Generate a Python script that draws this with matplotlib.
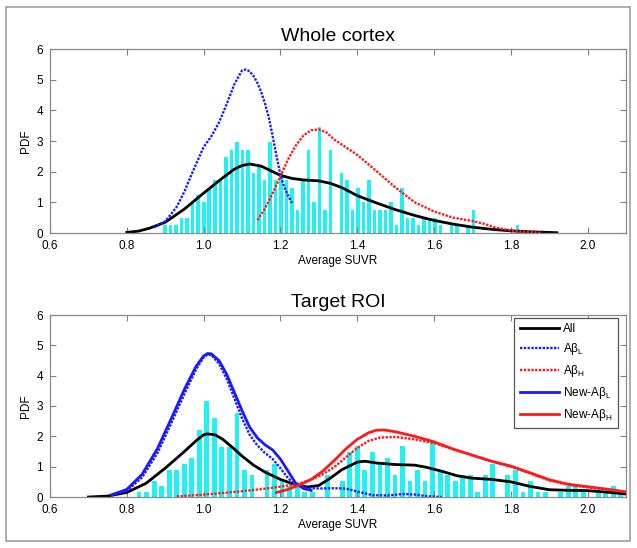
import numpy as np
import matplotlib
matplotlib.use("Agg")
import matplotlib.pyplot as plt
from matplotlib.patches import Rectangle

plt.rcParams['font.family'] = ['Liberation Sans', 'DejaVu Sans']
plt.rcParams['mathtext.fontset'] = 'custom'
plt.rcParams['mathtext.rm'] = 'Liberation Sans'
plt.rcParams['mathtext.it'] = 'Liberation Sans'

# ---- Whole cortex: histogram (bin centres start + width) ----
top_bin_start = 0.900
top_bin_width = 0.01434
top_hist = [0.25, 0.25, 0.25, 0.5, 0.5, 1.0, 1.23, 1.0, 1.48, 1.72,
            1.72, 2.47, 2.72, 2.96, 2.72, 2.72, 1.97, 2.22, 1.72, 2.96,
            1.72, 1.97, 1.72, 1.48, 0.74, 1.72, 2.72, 1.0, 3.45, 0.74,
            2.72, 0.0, 1.97, 1.72, 0.74, 1.48, 1.0, 1.72, 0.74, 0.74,
            0.74, 1.0, 0.25, 1.48, 0.5, 0.5, 0.25, 0.5, 0.5, 0.5,
            0.25, 0.0, 0.25, 0.25, 0.0, 0.25, 0.74, 0.0, 0.0, 0.0,
            0.0, 0.0, 0.0, 0.0, 0.25]

top_all_x = [0.80, 0.83, 0.86, 0.90, 0.95, 1.00, 1.05, 1.08, 1.10, 1.12, 1.15,
             1.18, 1.20, 1.23, 1.26, 1.30, 1.33, 1.36, 1.40, 1.45, 1.50, 1.55,
             1.60, 1.65, 1.70, 1.75, 1.80, 1.85, 1.92]
top_all_y = [0.02, 0.06, 0.16, 0.35, 0.78, 1.30, 1.80, 2.08, 2.20, 2.25, 2.18,
             2.00, 1.88, 1.78, 1.73, 1.70, 1.62, 1.48, 1.22, 0.98, 0.76, 0.57,
             0.41, 0.29, 0.19, 0.12, 0.07, 0.04, 0.01]

top_low_x = [0.87, 0.90, 0.93, 0.95, 0.97, 1.00, 1.02, 1.04, 1.06, 1.08, 1.10,
             1.11, 1.12, 1.13, 1.14, 1.15, 1.16, 1.17, 1.18, 1.19, 1.20, 1.21,
             1.22, 1.23]
top_low_y = [0.18, 0.38, 0.85, 1.35, 1.95, 2.80, 3.15, 3.60, 4.20, 4.85, 5.30,
             5.33, 5.27, 5.12, 4.90, 4.60, 4.22, 3.75, 3.15, 2.50, 1.90, 1.50,
             1.22, 0.98]

top_high_x = [1.14, 1.16, 1.18, 1.20, 1.22, 1.24, 1.26, 1.28, 1.30, 1.32, 1.34,
              1.37, 1.40, 1.45, 1.50, 1.55, 1.60, 1.65, 1.70, 1.73, 1.76, 1.80,
              1.84, 1.88]
top_high_y = [0.42, 0.80, 1.30, 1.85, 2.40, 2.85, 3.18, 3.35, 3.38, 3.28, 3.05,
              2.80, 2.55, 2.02, 1.48, 1.00, 0.70, 0.50, 0.39, 0.30, 0.18, 0.08,
              0.03, 0.01]

# ---- Target ROI ----
bot_bin_start = 0.832
bot_bin_width = 0.0196
bot_hist = [0.18, 0.18, 0.54, 0.36, 0.9, 0.9, 1.08, 1.27, 2.2, 3.15,
            2.6, 1.66, 1.66, 2.78, 0.9, 0.72, 0.0, 0.9, 1.1, 0.54,
            0.36, 0.36, 0.18, 0.18, 0.0, 0.72, 0.0, 0.54, 1.5, 1.68,
            0.9, 1.5, 1.1, 1.3, 0.72, 1.68, 0.54, 0.9, 0.54, 1.86,
            0.9, 0.72, 0.54, 0.72, 0.72, 0.18, 0.72, 1.1, 0.0, 0.72,
            0.9, 0.18, 0.54, 0.18, 0.18, 0.0, 0.18, 0.36, 0.36, 0.18,
            0.0, 0.18, 0.18, 0.36, 0.18]

bot_all_x = [0.70, 0.75, 0.80, 0.85, 0.90, 0.95, 0.98, 1.00, 1.01, 1.03, 1.05,
             1.08, 1.10, 1.13, 1.16, 1.20, 1.24, 1.27, 1.30, 1.33, 1.36, 1.40,
             1.42, 1.45, 1.50, 1.55, 1.58, 1.62, 1.66, 1.70, 1.75, 1.80, 1.85,
             1.90, 1.95, 2.00, 2.05, 2.10]
bot_all_y = [0.0, 0.03, 0.15, 0.45, 0.95, 1.50, 1.85, 2.05, 2.08, 2.05, 1.90,
             1.58, 1.35, 1.05, 0.82, 0.58, 0.40, 0.33, 0.38, 0.62, 0.90, 1.15,
             1.18, 1.12, 1.07, 1.05, 0.98, 0.85, 0.70, 0.62, 0.58, 0.50, 0.35,
             0.24, 0.22, 0.21, 0.16, 0.10]

bot_low_x = [0.76, 0.80, 0.84, 0.88, 0.92, 0.95, 0.98, 1.00, 1.01, 1.02, 1.04,
             1.06, 1.08, 1.10, 1.12, 1.14, 1.16, 1.18, 1.20, 1.22, 1.24, 1.27,
             1.30, 1.34, 1.37, 1.40, 1.44, 1.48, 1.52, 1.55, 1.58, 1.62]
bot_low_y = [0.05, 0.20, 0.65, 1.45, 2.55, 3.40, 4.20, 4.60, 4.70, 4.68, 4.40,
             3.90, 3.25, 2.60, 2.05, 1.70, 1.45, 1.25, 0.95, 0.62, 0.40, 0.30,
             0.28, 0.29, 0.28, 0.18, 0.06, 0.05, 0.10, 0.08, 0.03, 0.0]

bot_high_x = [0.93, 1.00, 1.05, 1.10, 1.15, 1.20, 1.25, 1.28, 1.31, 1.34, 1.37,
              1.40, 1.43, 1.46, 1.50, 1.55, 1.60, 1.65, 1.70, 1.75, 1.80, 1.85,
              1.90, 1.95, 2.00, 2.05, 2.10]
bot_high_y = [0.02, 0.08, 0.13, 0.19, 0.26, 0.34, 0.45, 0.57, 0.75, 0.98, 1.30,
              1.62, 1.85, 1.96, 1.98, 1.90, 1.78, 1.57, 1.37, 1.17, 1.00, 0.78,
              0.55, 0.40, 0.32, 0.24, 0.16]

new_low_x = [0.76, 0.80, 0.84, 0.88, 0.92, 0.95, 0.98, 1.00, 1.01, 1.02, 1.04,
             1.06, 1.08, 1.10, 1.12, 1.14, 1.16, 1.18, 1.20, 1.22, 1.24, 1.26,
             1.28]
new_low_y = [0.07, 0.25, 0.75, 1.60, 2.70, 3.55, 4.30, 4.65, 4.73, 4.72, 4.50,
             4.05, 3.45, 2.85, 2.30, 1.95, 1.72, 1.55, 1.25, 0.85, 0.45, 0.28,
             0.22]

new_high_x = [1.19, 1.22, 1.25, 1.28, 1.31, 1.34, 1.37, 1.40, 1.43, 1.45, 1.47,
              1.50, 1.55, 1.60, 1.65, 1.70, 1.75, 1.80, 1.85, 1.90, 1.95, 2.00,
              2.05, 2.10]
new_high_y = [0.15, 0.25, 0.40, 0.58, 0.85, 1.20, 1.58, 1.90, 2.12, 2.20, 2.21,
              2.15, 2.00, 1.82, 1.58, 1.38, 1.18, 1.02, 0.80, 0.57, 0.42, 0.34,
              0.26, 0.17]

xticks = [0.6, 0.8, 1.0, 1.2, 1.4, 1.6, 1.8, 2.0]
yticks = [0, 1, 2, 3, 4, 5, 6]

cyan = '#1ef2f2'
dots = (0, (1, 0.6))

fig = plt.figure(figsize=(6.37, 5.48), dpi=100)
fig.patches.append(Rectangle((6.5 / 637, 7.5 / 548), 623 / 637, 534 / 548,
                             transform=fig.transFigure, fill=False,
                             edgecolor='#a0a0a0', linewidth=1.2))

ax1 = fig.add_axes([50 / 637, 1 - 233 / 548, 576 / 637, 184 / 548])
ax2 = fig.add_axes([50 / 637, 1 - 497 / 548, 576 / 637, 182 / 548])


def style(ax, title):
    ax.set_xlim(0.6, 2.1)
    ax.set_ylim(0, 6)
    ax.set_xticks(xticks)
    ax.set_xticklabels(['%.1f' % t for t in xticks])
    ax.set_yticks(yticks)
    ax.tick_params(direction='in', top=True, right=True, length=4,
                   color='#808080', labelsize=8.5)
    ax.tick_params(axis='x', pad=5)
    ax.tick_params(axis='y', pad=5)
    for s in ax.spines.values():
        s.set_color('#8a8a8a')
        s.set_linewidth(0.9)
    ax.set_xlabel('Average SUVR', fontsize=8.5, labelpad=2)
    ax.set_ylabel('PDF', fontsize=8.5, labelpad=3)
    ax.set_title(title, fontsize=14, pad=6)


# top panel
top_centers = top_bin_start + top_bin_width * np.arange(len(top_hist))
ax1.bar(top_centers, top_hist, width=top_bin_width * 0.64, color=cyan, linewidth=0)
ax1.plot(top_all_x, top_all_y, color='black', lw=2)
ax1.plot(top_low_x, top_low_y, color='#1a1aff', lw=1.7, linestyle=dots)
ax1.plot(top_high_x, top_high_y, color='#ff1a1a', lw=1.7, linestyle=dots)
style(ax1, 'Whole cortex')

# bottom panel
bot_centers = bot_bin_start + bot_bin_width * np.arange(len(bot_hist))
ax2.bar(bot_centers, bot_hist, width=bot_bin_width * 0.64, color=cyan, linewidth=0)
ax2.plot(bot_all_x, bot_all_y, color='black', lw=2, label='All')
ax2.plot(bot_low_x, bot_low_y, color='#1a1aff', lw=1.7, linestyle=dots,
         label=r'A$\beta_{\mathrm{L}}$')
ax2.plot(bot_high_x, bot_high_y, color='#ff1a1a', lw=1.7, linestyle=dots,
         label=r'A$\beta_{\mathrm{H}}$')
ax2.plot(new_low_x, new_low_y, color='#1a1aff', lw=2,
         label=r'New-A$\beta_{\mathrm{L}}$')
ax2.plot(new_high_x, new_high_y, color='#ff1a1a', lw=2,
         label=r'New-A$\beta_{\mathrm{H}}$')
style(ax2, 'Target ROI')

leg = ax2.legend(loc='upper right', bbox_to_anchor=(0.986, 0.984),
                 borderaxespad=0, fontsize=8.5, handlelength=3.3,
                 labelspacing=0.5, fancybox=False, framealpha=1,
                 borderpad=0.45, handletextpad=0.4)
leg.get_frame().set_edgecolor('#555555')
leg.get_frame().set_linewidth(0.9)

fig.savefig('out.png', dpi=100)
